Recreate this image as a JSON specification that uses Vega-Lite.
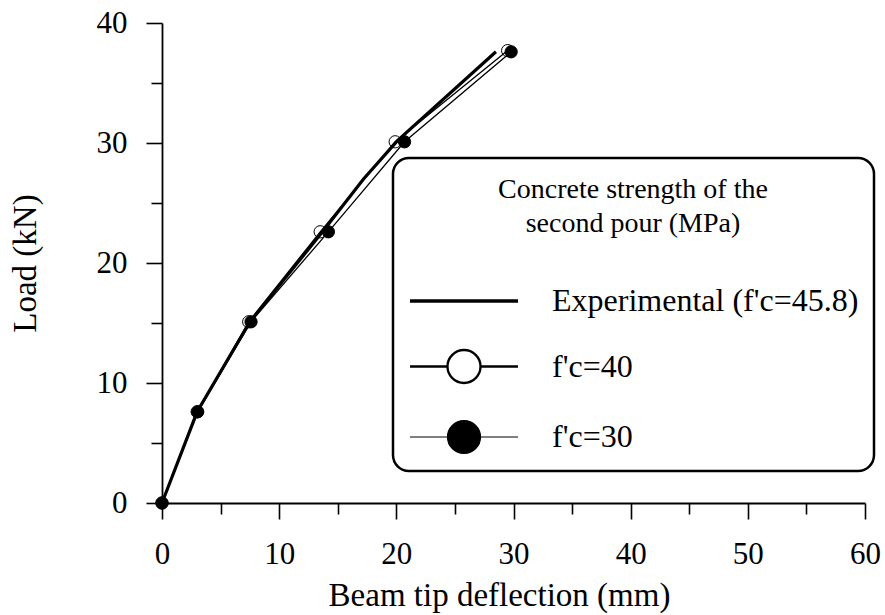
{
  "$schema": "https://vega.github.io/schema/vega-lite/v6.json",
  "width": 703,
  "height": 480,
  "autosize": {"type": "none"},
  "padding": {"left": 162, "top": 23, "right": 20, "bottom": 112},
  "background": "white",
  "config": {"view": {"stroke": null}, "legend": {"strokeWidth": 2.5}},
  "data": {"values": [
    {"series": "Experimental (f'c=45.8)", "x": 0, "y": 0},
    {"series": "Experimental (f'c=45.8)", "x": 3, "y": 7.6},
    {"series": "Experimental (f'c=45.8)", "x": 7.5, "y": 15.1},
    {"series": "Experimental (f'c=45.8)", "x": 13.7, "y": 22.6},
    {"series": "Experimental (f'c=45.8)", "x": 17.2, "y": 27},
    {"series": "Experimental (f'c=45.8)", "x": 20.1, "y": 30.2},
    {"series": "Experimental (f'c=45.8)", "x": 28.5, "y": 37.6},
    {"series": "f'c=40", "x": 0, "y": 0},
    {"series": "f'c=40", "x": 3, "y": 7.6},
    {"series": "f'c=40", "x": 7.4, "y": 15.1},
    {"series": "f'c=40", "x": 13.5, "y": 22.6},
    {"series": "f'c=40", "x": 19.9, "y": 30.1},
    {"series": "f'c=40", "x": 29.5, "y": 37.7},
    {"series": "f'c=30", "x": 0, "y": 0},
    {"series": "f'c=30", "x": 3.05, "y": 7.6},
    {"series": "f'c=30", "x": 7.6, "y": 15.1},
    {"series": "f'c=30", "x": 14.2, "y": 22.6},
    {"series": "f'c=30", "x": 20.7, "y": 30.1},
    {"series": "f'c=30", "x": 29.8, "y": 37.6}
  ]},
  "resolve": {"axis": {"x": "independent", "y": "independent"}},
  "layer": [
    {
      "transform": [{"filter": "indexof(datum.series,'Exp')<0"}],
      "mark": {"type": "point", "shape": "circle", "size": 150, "filled": true, "stroke": "black", "strokeWidth": 1, "opacity": 1},
      "encoding": {
        "x": {"field": "x", "type": "quantitative", "scale": {"domain": [0, 60], "nice": false},
          "axis": {"orient": "bottom", "values": [5, 15, 25, 35, 45, 55], "labels": false, "domain": false, "grid": false, "title": null, "tickSize": 11, "tickWidth": 1.6, "tickColor": "black"}},
        "y": {"field": "y", "type": "quantitative", "scale": {"domain": [0, 40], "nice": false},
          "axis": {"orient": "left", "values": [5, 15, 25, 35], "labels": false, "domain": false, "grid": false, "title": null, "tickSize": 11, "tickWidth": 1.6, "tickColor": "black"}},
        "fill": {"condition": {"test": "indexof(datum.series,'40')>=0", "value": "white"}, "value": "black"}
      }
    },
    {
      "mark": {"type": "line", "clip": false, "stroke": "black"},
      "encoding": {
        "x": {"field": "x", "type": "quantitative", "scale": {"domain": [0, 60], "nice": false},
          "axis": {"orient": "bottom", "values": [0, 10, 20, 30, 40, 50, 60], "grid": false, "domainColor": "black", "domainWidth": 1.8, "tickColor": "black", "tickWidth": 1.6, "tickSize": 16,
            "labelFont": "Liberation Serif", "labelFontSize": 31, "labelColor": "black", "labelPadding": 20, "labelFlush": false, "labelOverlap": false,
            "title": "Beam tip deflection (mm)", "titleFont": "Liberation Serif", "titleFontSize": 33, "titleFontWeight": "normal", "titleColor": "black",
            "titleX": 337, "titleY": 102, "titleBaseline": "alphabetic", "titleAlign": "center", "titleAnchor": "start"}},
        "y": {"field": "y", "type": "quantitative", "scale": {"domain": [0, 40], "nice": false},
          "axis": {"orient": "left", "values": [0, 10, 20, 30, 40], "grid": false, "domainColor": "black", "domainWidth": 1.8, "tickColor": "black", "tickWidth": 1.6, "tickSize": 16,
            "labelFont": "Liberation Serif", "labelFontSize": 31, "labelColor": "black", "labelPadding": 19, "labelFlush": false, "labelOverlap": false,
            "title": "Load (kN)", "titleFont": "Liberation Serif", "titleFontSize": 33, "titleFontWeight": "normal", "titleColor": "black",
            "titleX": -127, "titleY": 240, "titleBaseline": "alphabetic", "titleAlign": "center", "titleAnchor": "start", "titleAngle": -90}},
        "detail": {"field": "series", "type": "nominal"},
        "strokeWidth": {"condition": {"test": "indexof(datum.series,'Exp')>=0", "value": 3.2}, "value": 1.3}
      }
    },
    {
      "mark": {"type": "point", "filled": true, "opacity": 0, "size": 20},
      "encoding": {
        "x": {"field": "x", "type": "quantitative", "axis": null},
        "y": {"field": "y", "type": "quantitative", "axis": null},
        "shape": {"field": "series", "type": "nominal",
          "scale": {"domain": ["Experimental (f'c=45.8)", "f'c=40", "f'c=30"], "range": ["M-1,0L1.25,0", "M-1,0L-0.219,0M0.469,0L1.25,0M-0.219,0A0.344,0.344,0,1,1,0.469,0A0.344,0.344,0,1,1,-0.219,0Z", "M-1,0L-0.219,0M0.469,0L1.25,0M-0.219,0A0.344,0.344,0,1,1,0.469,0A0.344,0.344,0,1,1,-0.219,0Z"]},
          "legend": {
            "orient": "none", "legendX": 231, "legendY": 135,
            "title": ["Concrete strength of the", "second pour (MPa)"],
            "titleFont": "Liberation Serif", "titleFontSize": 28, "titleFontWeight": "normal", "titleColor": "black", "titleLimit": 0,
            "titleAnchor": "middle", "titleAlign": "center", "titleLineHeight": 34, "titlePadding": 16, "titleBaseline": "line-top",
            "labelFont": "Liberation Serif", "labelFontSize": 32, "labelColor": "black", "labelOffset": 44, "labelLimit": 0,
            "symbolSize": 9216, "symbolOpacity": 1,
            "rowPadding": 0, "padding": 15, "strokeColor": "black", "cornerRadius": 16, "fillColor": "white"
          }},
        "fill": {"field": "series", "type": "nominal",
          "scale": {"domain": ["Experimental (f'c=45.8)", "f'c=40", "f'c=30"], "range": ["white", "white", "black"]}},
        "stroke": {"field": "series", "type": "nominal",
          "scale": {"domain": ["Experimental (f'c=45.8)", "f'c=40", "f'c=30"], "range": ["black", "black", "black"]}},
        "strokeWidth": {"field": "series", "type": "nominal",
          "scale": {"domain": ["Experimental (f'c=45.8)", "f'c=40", "f'c=30"], "range": [3.5, 1.2, 1.2]}}
      }
    }
  ]
}
